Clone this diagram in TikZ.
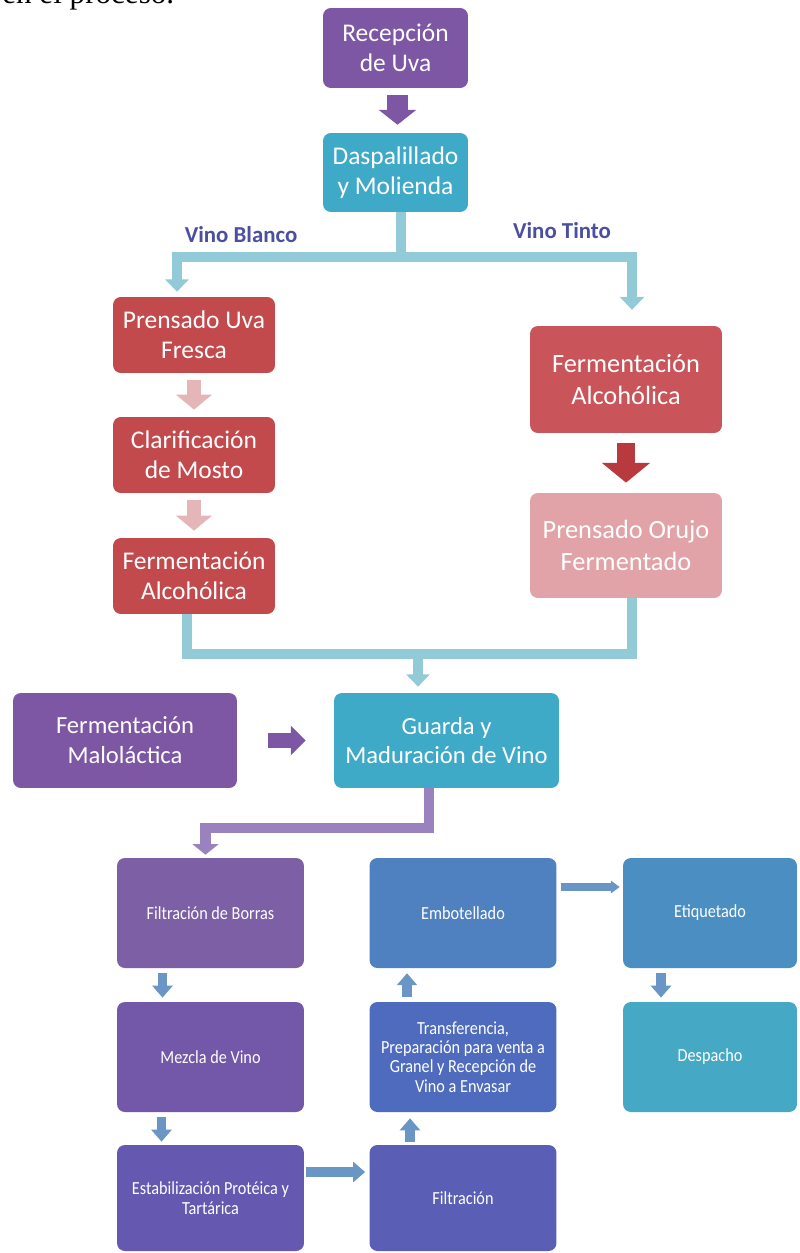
\documentclass[tikz,border=0pt]{standalone}
\usepackage{fontspec}
\setmainfont{Carlito}
\newfontfamily\introfont{Liberation Serif}
\newfontfamily\narrowfont[FakeStretch=0.88]{Carlito}
\usetikzlibrary{arrows.meta,calc}
% colours picked from the chart
\definecolor{uva}{HTML}{7D57A3}
\definecolor{aqua}{HTML}{3FAAC7}
\definecolor{treeblue}{HTML}{93CAD8}
\definecolor{label}{HTML}{4B4FA0}
\definecolor{vino}{HTML}{C24A4D}
\definecolor{vinoT}{HTML}{C9545A}
\definecolor{rose}{HTML}{E2A3A8}
\definecolor{palerose}{HTML}{E4B6B8}
\definecolor{darkred}{HTML}{B83A3E}
\definecolor{lilac}{HTML}{9A82BF}
\definecolor{borras}{HTML}{7D5FA6}
\definecolor{mezcla}{HTML}{7357A8}
\definecolor{estab}{HTML}{6458B0}
\definecolor{filt}{HTML}{5A5EB5}
\definecolor{transf}{HTML}{4F6BBD}
\definecolor{embot}{HTML}{4F80C0}
\definecolor{etiq}{HTML}{4A8EC2}
\definecolor{desp}{HTML}{45A9C6}
\definecolor{steel}{HTML}{6A96C6}
\newcommand{\bigtext}{\fontsize{14.5}{17}\selectfont}
\newcommand{\smalltext}{\narrowfont\fontsize{10.5}{11}\selectfont}

\begin{document}
\begin{tikzpicture}[x=0.02cm,y=-0.02cm,
    box/.style={rounded corners=4.5pt, fill=#1, align=center, text=white, inner sep=2pt},
    smallbox/.style={box=#1, font=\smalltext, minimum width=3.74cm, minimum height=2.2cm},
    fat/.style n args={4}{draw=#1, line width=#2, -{Triangle[width=#3,length=#4]}},
    treebar/.style={draw=treeblue, line width=5.5pt, line join=miter},
    smallarrow/.style={fat={steel}{5.5pt}{11.3pt}{6.8pt}}]
  \clip (0,0) rectangle (800,1253);
  \fill[white] (0,0) rectangle (800,1253);
  \node[anchor=base west, inner sep=0, font=\introfont\fontsize{17.7}{20}\selectfont] (intro) at (2,4) {en el proceso.};

  % top of the chart
  \node[box=uva, font=\bigtext, minimum width=2.9cm, minimum height=1.6cm] (recep) at (395.5,48) {Recepción\\de Uva};
  \node[box=aqua, font=\bigtext, minimum width=2.9cm, minimum height=1.58cm] (dasp) at (395.5,172.5) {Daspalillado\\y Molienda};
  \draw[fat={uva}{11.9pt}{21pt}{8.5pt}, shorten <=4pt, shorten >=4.5pt] ($(recep.south)+(2,0)$) -- ($(dasp.north)+(2,0)$);

  \node[text=label, font=\bfseries\fontsize{13}{15}\selectfont] (blanco) at (241,235) {Vino Blanco};
  \node[text=label, font=\bfseries\fontsize{13}{15}\selectfont] (tinto) at (562,231) {Vino Tinto};

  % vino blanco
  \node[box=vino, font=\bigtext, minimum width=3.24cm, minimum height=1.52cm] (prenUva) at (194,335) {Prensado Uva\\Fresca};
  \node[box=vino, font=\bigtext, minimum width=3.24cm, minimum height=1.52cm] (clarif) at (194,455) {Clarificación\\de Mosto};
  \node[box=vino, font=\bigtext, minimum width=3.24cm, minimum height=1.52cm] (fermB) at (194,576) {Fermentación\\Alcohólica};
  \draw[fat={palerose}{8.5pt}{20pt}{8.5pt}, shorten <=4pt, shorten >=4pt] (prenUva) -- (clarif);
  \draw[fat={palerose}{8.5pt}{20pt}{8.5pt}, shorten <=4pt, shorten >=4pt] (clarif) -- (fermB);

  % vino tinto
  \node[box=vinoT, font=\fontsize{15}{18}\selectfont, minimum width=3.84cm, minimum height=2.14cm] (fermT) at (626,379.5) {Fermentación\\Alcohólica};
  \node[box=rose, font=\fontsize{15}{18}\selectfont, minimum width=3.84cm, minimum height=2.1cm] (orujo) at (626,545.5) {Prensado Orujo\\Fermentado};
  \draw[fat={darkred}{10pt}{27pt}{11.3pt}, shorten <=5.7pt, shorten >=5.7pt] (fermT) -- (orujo);

  % split of the two wines
  \coordinate (split) at (401,257);
  \draw[treebar] (split |- dasp.south) -- (split);
  \draw[treebar, -{Triangle[width=13pt,length=7pt]}, shorten >=2.8pt] (split) -| ($(prenUva.north)+(-17,0)$);
  \draw[treebar, -{Triangle[width=13.6pt,length=7.4pt]}, shorten >=9pt] (split) -| ($(fermT.north)+(6,0)$);

  % both wines meet again
  \node[box=uva, font=\fontsize{14}{17}\selectfont, minimum width=4.48cm, minimum height=1.9cm] (malo) at (125,740.5) {Fermentación\\Maloláctica};
  \node[box=aqua, font=\fontsize{14}{17}\selectfont, minimum width=4.5cm, minimum height=1.9cm] (guarda) at (446.5,740.5) {Guarda y\\Maduración de Vino};
  \coordinate (merge) at (418,654);
  \draw[treebar] ($(fermB.south)+(-7,0)$) |- (merge) -| ($(orujo.south)+(6,0)$);
  \draw[treebar, -{Triangle[width=13pt,length=7pt]}, shorten >=3.4pt] (merge) -- (merge |- guarda.north);
  \draw[fat={uva}{9pt}{16.4pt}{8.5pt}, shorten <=17.6pt, shorten >=15.9pt] (malo) -- (guarda);

  % bottling line
  \node[smallbox=borras] (borras) at (210.5,913) {Filtración de Borras};
  \node[smallbox=mezcla] (mezcla) at (210.5,1057) {Mezcla de Vino};
  \node[smallbox=estab, minimum height=2.12cm] (estab) at (210.5,1198) {Estabilización Protéica y\\Tartárica};
  \node[smallbox=filt, minimum height=2.12cm] (filt) at (463,1198) {Filtración};
  \node[smallbox=transf] (transf) at (463,1057) {Transferencia,\\Preparación para venta a\\Granel y Recepción de\\Vino a Envasar};
  \node[smallbox=embot] (embot) at (463,913) {Embotellado};
  \node[smallbox=etiq, minimum width=3.48cm] (etiq) at (710,913) {Etiquetado};
  \node[smallbox=desp, minimum width=3.48cm] (desp) at (710,1057) {Despacho};

  \draw[draw=lilac, line width=5.7pt, line join=miter, -{Triangle[width=14.7pt,length=6pt]}, shorten >=1.7pt]
    ($(guarda.south)+(-18,0)$) -- ++(0,40) -| ($(borras.north)+(-5,0)$);

  \draw[smallarrow, shorten <=2.8pt, shorten >=2.3pt] ($(borras.south)+(-48,0)$) -- ($(mezcla.north)+(-48,0)$);
  \draw[smallarrow, shorten <=2.8pt, shorten >=1.7pt] ($(mezcla.south)+(-49,0)$) -- ($(estab.north)+(-49,0)$);
  \draw[smallarrow, shorten <=1.2pt, shorten >=2.3pt] ($(estab.east)+(0,-26)$) -- ($(filt.west)+(0,-26)$);
  \draw[smallarrow, shorten <=1.7pt, shorten >=3.4pt] ($(filt.north)+(-53,0)$) -- ($(transf.south)+(-53,0)$);
  \draw[smallarrow, shorten <=2.8pt, shorten >=2.8pt] ($(transf.north)+(-56,0)$) -- ($(embot.south)+(-56,0)$);
  \draw[fat={steel}{4pt}{7pt}{5pt}, shorten <=2.3pt, shorten >=1.7pt] ($(embot.east)+(0,-26)$) -- ($(etiq.west)+(0,-26)$);
  \draw[smallarrow, shorten <=2.8pt, shorten >=2.3pt] ($(etiq.south)+(-49,0)$) -- ($(desp.north)+(-49,0)$);
\end{tikzpicture}
\end{document}
